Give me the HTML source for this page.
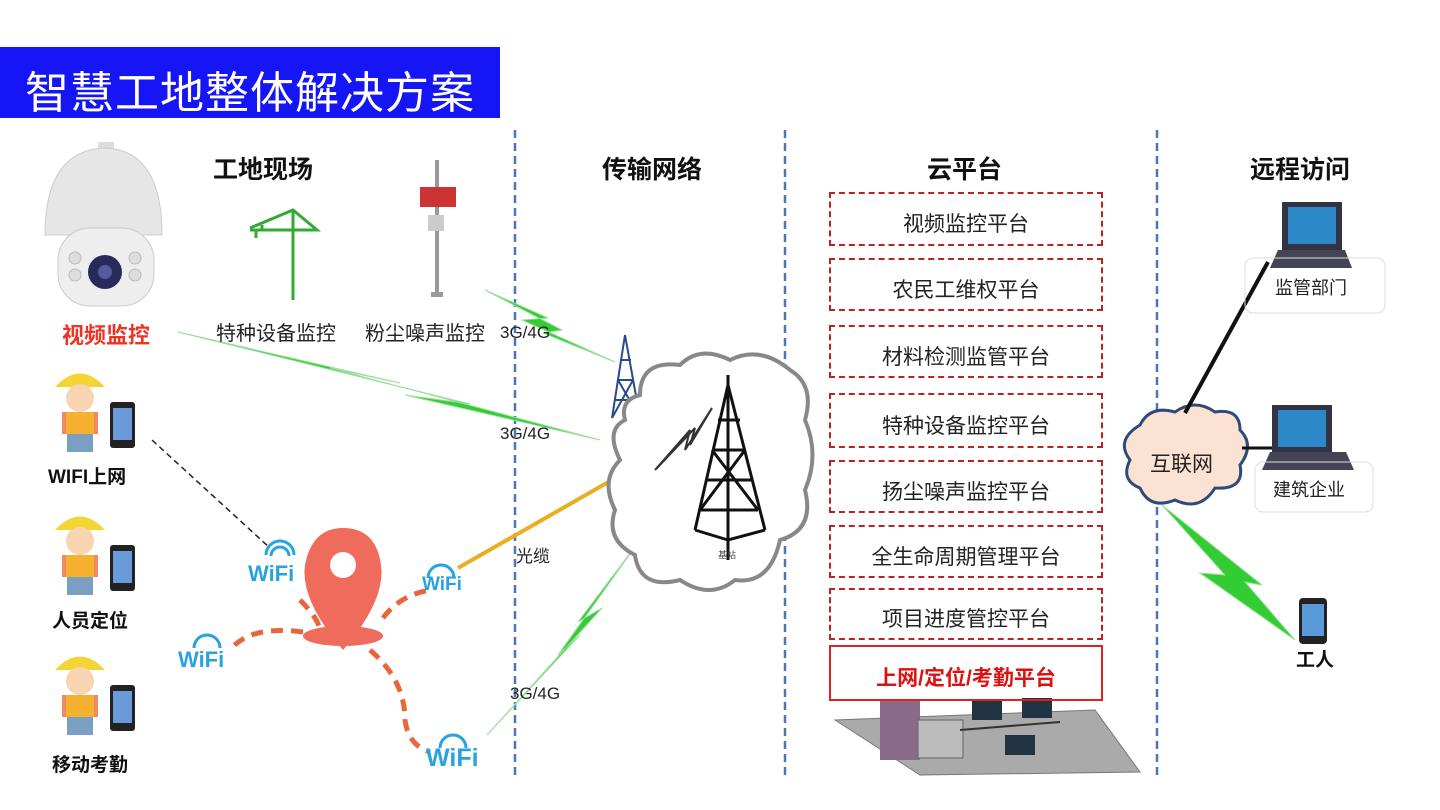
<!DOCTYPE html>
<html><head><meta charset="utf-8"><style>
body{margin:0;width:1440px;height:810px;background:#fff;overflow:hidden;position:relative;font-family:"Liberation Sans","Noto Sans CJK SC",sans-serif}
.t{position:absolute;white-space:nowrap}
.h{font-weight:bold;font-size:25px;color:#111}
.box{position:absolute;left:829px;width:274px;border:2px dashed #b22;text-align:center;font-size:21px;color:#222;box-sizing:border-box;padding-top:6px}
</style></head><body>
<div style="position:absolute;left:0;top:47px;width:500px;height:71px;background:#1515f5"></div>
<div class="t" style="left:25px;top:57px;font-size:44px;color:#fff;letter-spacing:1px">智慧工地整体解决方案</div>

<svg width="1440" height="810" style="position:absolute;left:0;top:0">
<g stroke="#4a78b5" stroke-width="2.5" stroke-dasharray="8,5">
<line x1="515" y1="130" x2="515" y2="775"/><line x1="785" y1="130" x2="785" y2="775"/><line x1="1157" y1="130" x2="1157" y2="775"/></g>
<rect x="98" y="142" width="16" height="10" fill="#ddd"/>
<path d="M45 235 Q45 150 105 148 Q162 150 162 235 Z" fill="#e6e6e6" stroke="#ccc"/>
<rect x="58" y="228" width="96" height="78" rx="32" fill="#eee" stroke="#ccc"/>
<circle cx="105" cy="272" r="17" fill="#2a2a5a"/><circle cx="105" cy="272" r="7" fill="#555a9a"/>
<circle cx="75" cy="258" r="6" fill="#ddd" stroke="#bbb"/><circle cx="75" cy="275" r="6" fill="#ddd" stroke="#bbb"/>
<circle cx="135" cy="258" r="6" fill="#ddd" stroke="#bbb"/><circle cx="135" cy="275" r="6" fill="#ddd" stroke="#bbb"/>
<g stroke="#3a3" stroke-width="3" fill="none"><line x1="293" y1="210" x2="293" y2="300"/><path d="M250 228 L293 210 L317 230 L250 230"/><path d="M256 230 v8 M262 230 l0 -5"/></g>
<line x1="437" y1="160" x2="437" y2="295" stroke="#999" stroke-width="4"/>
<rect x="420" y="187" width="36" height="20" fill="#c33"/>
<rect x="428" y="215" width="16" height="16" fill="#ccc"/><rect x="431" y="292" width="12" height="5" fill="#999"/>
<g fill="#3c3" stroke="#9d9" stroke-width="1">
<polygon points="178,332 400,383 330,368 600,440 405,395 470,404"/>
<polygon points="485,290 548,318 522,320 615,362 543,333 562,330"/>
<polygon points="487,735 580,635 558,655 640,540 578,622 602,608"/>
<polygon points="1162,505 1225,575 1200,573 1295,640 1245,582 1262,585"/>
</g>
<line x1="458" y1="568" x2="612" y2="480" stroke="#e8b020" stroke-width="4"/>
<line x1="152" y1="440" x2="270" y2="548" stroke="#222" stroke-width="1.5" stroke-dasharray="6,4"/>
<g stroke="#2a4a8a" stroke-width="2" fill="none"><path d="M612 418 L625 335 L640 418 M615 400 L636 400 M618 380 L633 380 M620 360 L631 360 M612 418 L633 380 M640 418 L618 380"/></g>
<path d="M640 395 Q640 360 680 365 Q700 345 730 360 Q760 345 790 370 Q815 385 805 420 Q820 455 805 490 Q815 530 780 540 Q770 585 735 580 Q710 600 680 580 Q640 590 635 555 Q605 540 615 510 Q600 480 620 460 Q605 430 625 420 Q620 400 640 395Z" fill="#fff" stroke="#888" stroke-width="4"/>
<path d="M655 470 L690 430 L685 450 L712 408 L690 445 L695 428 Z" fill="none" stroke="#333" stroke-width="2"/>
<g stroke="#111" stroke-width="3" fill="none"><line x1="728" y1="375" x2="728" y2="560"/><path d="M695 530 L728 385 L765 530 M700 510 L758 510 M706 480 L752 480 M712 450 L745 450 M718 420 L740 420 M700 510 L745 450 M758 510 L712 450 M695 530 L728 540 L765 530"/></g>
<text x="718" y="558" font-size="9" fill="#444">基站</text>
<path d="M343 650 Q300 600 305 565 Q312 528 343 528 Q376 528 381 565 Q386 600 343 650Z" fill="#ef6b5b"/>
<circle cx="343" cy="565" r="13" fill="#fff"/>
<ellipse cx="343" cy="636" rx="40" ry="10" fill="#ef6b5b"/>
<g stroke="#e8663a" stroke-width="5" stroke-dasharray="12,8" fill="none">
<path d="M300 600 Q320 620 320 632"/><path d="M383 618 Q400 595 430 590"/><path d="M303 632 Q250 625 230 650"/><path d="M370 650 Q405 680 405 720 Q408 745 430 752"/></g>
<g fill="none" stroke="#29a3e0" stroke-width="3">
<path d="M266 555 a14 14 0 0 1 28 0 M271 556 a9 9 0 0 1 18 0"/>
<path d="M428 578 a13 13 0 0 1 26 0"/><path d="M194 648 a13 13 0 0 1 26 0"/><path d="M440 748 a13 13 0 0 1 26 0"/></g>
<path d="M1140 425 Q1150 405 1175 412 Q1195 398 1215 412 Q1240 408 1240 430 Q1255 445 1240 465 Q1245 490 1215 488 Q1200 512 1175 500 Q1150 510 1140 488 Q1120 480 1130 460 Q1115 440 1140 425Z" fill="#fbe2d2" stroke="#2e4a7a" stroke-width="3"/>
<line x1="1185" y1="413" x2="1268" y2="262" stroke="#111" stroke-width="4"/>
<line x1="1242" y1="448" x2="1280" y2="448" stroke="#111" stroke-width="3"/>
<g><rect x="1282" y="202" width="60" height="50" fill="#334" /><rect x="1288" y="207" width="48" height="37" fill="#2d88c8"/><polygon points="1270,268 1352,268 1345,250 1278,250" fill="#445"/>
<rect x="1272" y="405" width="60" height="48" fill="#334"/><rect x="1278" y="410" width="48" height="37" fill="#2d88c8"/><polygon points="1262,470 1354,470 1346,452 1270,452" fill="#445"/></g>
<rect x="1245" y="258" width="140" height="55" rx="8" fill="none" stroke="#ddd"/>
<rect x="1255" y="462" width="118" height="50" rx="8" fill="none" stroke="#ddd"/>
<rect x="1299" y="598" width="28" height="46" rx="4" fill="#222"/><rect x="1302" y="604" width="22" height="32" fill="#5a9ad8"/>
<g id="w">
<path d="M55 387 Q80 360 105 387 Z" fill="#f5d533"/><circle cx="80" cy="398" r="14" fill="#f8d4b0"/>
<rect x="62" y="412" width="36" height="22" fill="#e86" /><rect x="66" y="412" width="28" height="22" fill="#f5b030"/>
<rect x="67" y="434" width="26" height="18" fill="#7a9fc0"/>
<rect x="110" y="402" width="25" height="46" rx="3" fill="#222"/><rect x="113" y="408" width="19" height="32" fill="#6a9ad8"/>
</g>
<use href="#w" y="143"/><use href="#w" y="283"/>
<polygon points="835,720 1095,710 1140,772 920,775" fill="#aaa" stroke="#777"/>
<rect x="880" y="700" width="40" height="60" fill="#8a6a8a"/><rect x="918" y="720" width="45" height="38" fill="#bbb" stroke="#666"/>
<rect x="972" y="700" width="30" height="20" fill="#234"/><rect x="1022" y="698" width="30" height="20" fill="#234"/><rect x="1005" y="735" width="30" height="20" fill="#234"/>
<line x1="960" y1="730" x2="1060" y2="722" stroke="#333" stroke-width="2"/>
</svg>

<div class="t h" style="left:213px;top:150px">工地现场</div>
<div class="t h" style="left:602px;top:150px">传输网络</div>
<div class="t h" style="left:927px;top:150px">云平台</div>
<div class="t h" style="left:1250px;top:150px">远程访问</div>

<div class="t" style="left:62px;top:318px;font-size:22px;font-weight:bold;color:#e32">视频监控</div>
<div class="t" style="left:216px;top:317px;font-size:20px;color:#222">特种设备监控</div>
<div class="t" style="left:365px;top:317px;font-size:20px;color:#222">粉尘噪声监控</div>
<div class="t" style="left:48px;top:462px;font-size:19px;font-weight:bold;color:#111">WIFI上网</div>
<div class="t" style="left:52px;top:606px;font-size:19px;font-weight:bold;color:#111">人员定位</div>
<div class="t" style="left:52px;top:750px;font-size:19px;font-weight:bold;color:#111">移动考勤</div>
<div class="t" style="left:500px;top:323px;font-size:17px;color:#222">3G/4G</div>
<div class="t" style="left:500px;top:424px;font-size:17px;color:#222">3G/4G</div>
<div class="t" style="left:516px;top:542px;font-size:17px;color:#222">光缆</div>
<div class="t" style="left:510px;top:684px;font-size:17px;color:#222">3G/4G</div>
<div class="t" style="left:248px;top:561px;font-size:22px;font-weight:bold;color:#29a3e0">WiFi</div>
<div class="t" style="left:422px;top:574px;font-size:19px;font-weight:bold;color:#29a3e0">WiFi</div>
<div class="t" style="left:178px;top:647px;font-size:22px;font-weight:bold;color:#29a3e0">WiFi</div>
<div class="t" style="left:426px;top:744px;font-size:25px;font-weight:bold;color:#29a3e0">WiFi</div>

<div class="box" style="top:192px;height:54px;line-height:50px">视频监控平台</div>
<div class="box" style="top:258px;height:53px;line-height:49px">农民工维权平台</div>
<div class="box" style="top:325px;height:53px;line-height:49px">材料检测监管平台</div>
<div class="box" style="top:393px;height:55px;line-height:51px">特种设备监控平台</div>
<div class="box" style="top:460px;height:53px;line-height:49px">扬尘噪声监控平台</div>
<div class="box" style="top:525px;height:53px;line-height:49px">全生命周期管理平台</div>
<div class="box" style="top:588px;height:52px;line-height:48px">项目进度管控平台</div>
<div class="box" style="top:645px;height:56px;line-height:52px;border:2px solid #d22;color:#d11;font-weight:bold">上网/定位/考勤平台</div>

<div class="t" style="left:1150px;top:448px;font-size:21px;color:#222">互联网</div>
<div class="t" style="left:1275px;top:274px;font-size:18px;color:#222">监管部门</div>
<div class="t" style="left:1273px;top:476px;font-size:18px;color:#222">建筑企业</div>
<div class="t" style="left:1296px;top:645px;font-size:19px;font-weight:bold;color:#111">工人</div>
</body></html>
